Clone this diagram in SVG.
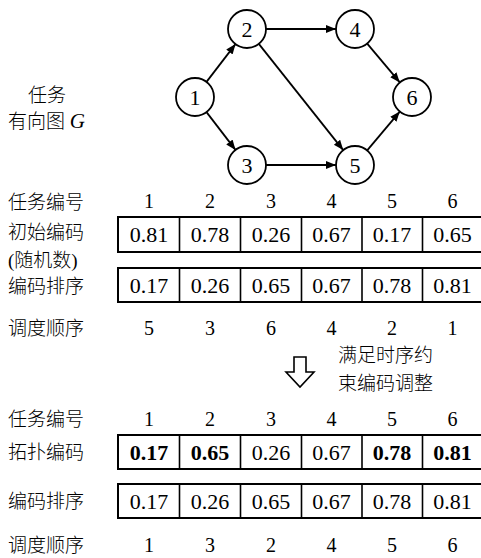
<svg xmlns="http://www.w3.org/2000/svg" width="481" height="558" viewBox="0 0 481 558">
<style>
  text { font-family: "Liberation Serif", "Noto Sans CJK SC", serif; fill: #000; }
  .cjk { font-size: 19px; font-weight: 300; }
  .num { font-size: 20px; text-anchor: middle; }
  .cell { font-size: 22px; text-anchor: middle; }
  .b { font-weight: bold; }
  .node circle { fill: #fff; stroke: #000; stroke-width: 1.8; }
  .node text { font-size: 22px; text-anchor: middle; }
  .edge { stroke: #000; stroke-width: 1.8; fill: none; marker-end: url(#ah); }
  .box { fill: #fff; stroke: #000; stroke-width: 2; }
  .div { stroke: #000; stroke-width: 1.6; }
</style>
<defs>
  <marker id="ah" markerUnits="userSpaceOnUse" markerWidth="11" markerHeight="9" refX="10" refY="4" orient="auto">
    <path d="M0,0 L10,4 L0,8 z" fill="#000"/>
  </marker>
</defs>
<rect width="481" height="558" fill="#fff"/>

<g id="graph-label">
  <text class="cjk" x="47" y="102" text-anchor="middle">任务</text>
  <text class="cjk" x="8" y="128">有向图 <tspan font-style="italic" font-size="21" font-weight="normal">G</tspan></text>
</g>

<g id="connectors">
  <line class="edge" x1="206.5" y1="81.9" x2="235.5" y2="44.1"/>
  <line class="edge" x1="206.5" y1="112.1" x2="235.5" y2="149.9"/>
  <line class="edge" x1="266" y1="29" x2="336" y2="29"/>
  <line class="edge" x1="258.8" y1="43.9" x2="343.2" y2="150.1"/>
  <line class="edge" x1="266" y1="165" x2="336" y2="165"/>
  <line class="edge" x1="367.2" y1="43.6" x2="399.8" y2="82.4"/>
  <line class="edge" x1="367.2" y1="150.4" x2="399.8" y2="111.6"/>
</g>

<g id="n1" class="node"><circle cx="195" cy="97" r="19"/><text x="195" y="104.5">1</text></g>
<g id="n2" class="node"><circle cx="247" cy="29" r="19"/><text x="247" y="36.5">2</text></g>
<g id="n3" class="node"><circle cx="247" cy="165" r="19"/><text x="247" y="172.5">3</text></g>
<g id="n4" class="node"><circle cx="355" cy="29" r="19"/><text x="355" y="36.5">4</text></g>
<g id="n5" class="node"><circle cx="355" cy="165" r="19"/><text x="355" y="172.5">5</text></g>
<g id="n6" class="node"><circle cx="412" cy="97" r="19"/><text x="412" y="104.5">6</text></g>

<g id="top-section">
  <text class="cjk" x="8" y="209">任务编号</text>
  <text class="cjk" x="8" y="239">初始编码</text>
  <text class="cjk" x="8" y="267">(随机数)</text>
  <text class="cjk" x="8" y="293">编码排序</text>
  <text class="cjk" x="8" y="335">调度顺序</text>

  <g id="hdr1">
    <text class="num" x="149" y="208">1</text>
    <text class="num" x="210" y="208">2</text>
    <text class="num" x="271" y="208">3</text>
    <text class="num" x="331.5" y="208">4</text>
    <text class="num" x="392" y="208">5</text>
    <text class="num" x="452.5" y="208">6</text>
  </g>

  <g id="table-initial">
    <rect class="box" x="118" y="217" width="364" height="35"/>
    <line class="div" x1="179.5" y1="217" x2="179.5" y2="252"/>
    <line class="div" x1="240.5" y1="217" x2="240.5" y2="252"/>
    <line class="div" x1="301.5" y1="217" x2="301.5" y2="252"/>
    <line class="div" x1="362" y1="217" x2="362" y2="252"/>
    <line class="div" x1="422.5" y1="217" x2="422.5" y2="252"/>
    <text class="cell" x="149" y="242">0.81</text>
    <text class="cell" x="210" y="242">0.78</text>
    <text class="cell" x="271" y="242">0.26</text>
    <text class="cell" x="331.5" y="242">0.67</text>
    <text class="cell" x="392" y="242">0.17</text>
    <text class="cell" x="452.5" y="242">0.65</text>
  </g>

  <g id="table-sorted1">
    <rect class="box" x="118" y="268" width="364" height="34"/>
    <line class="div" x1="179.5" y1="268" x2="179.5" y2="302"/>
    <line class="div" x1="240.5" y1="268" x2="240.5" y2="302"/>
    <line class="div" x1="301.5" y1="268" x2="301.5" y2="302"/>
    <line class="div" x1="362" y1="268" x2="362" y2="302"/>
    <line class="div" x1="422.5" y1="268" x2="422.5" y2="302"/>
    <text class="cell" x="149" y="292.5">0.17</text>
    <text class="cell" x="210" y="292.5">0.26</text>
    <text class="cell" x="271" y="292.5">0.65</text>
    <text class="cell" x="331.5" y="292.5">0.67</text>
    <text class="cell" x="392" y="292.5">0.78</text>
    <text class="cell" x="452.5" y="292.5">0.81</text>
  </g>

  <g id="order1">
    <text class="num" x="149" y="335">5</text>
    <text class="num" x="210" y="335">3</text>
    <text class="num" x="271" y="335">6</text>
    <text class="num" x="331.5" y="335">4</text>
    <text class="num" x="392" y="335">2</text>
    <text class="num" x="452.5" y="335">1</text>
  </g>
</g>

<g id="adjust">
  <path d="M294,357 L306,357 L306,372 L314,372 L300,387 L286,372 L294,372 z" fill="#fff" stroke="#000" stroke-width="1.6" stroke-linejoin="miter"/>
  <text class="cjk" x="338" y="362">满足时序约</text>
  <text class="cjk" x="338" y="390">束编码调整</text>
</g>

<g id="bottom-section">
  <text class="cjk" x="8" y="426">任务编号</text>
  <text class="cjk" x="8" y="459">拓扑编码</text>
  <text class="cjk" x="8" y="508">编码排序</text>
  <text class="cjk" x="8" y="552">调度顺序</text>

  <g id="hdr2">
    <text class="num" x="149" y="426">1</text>
    <text class="num" x="210" y="426">2</text>
    <text class="num" x="271" y="426">3</text>
    <text class="num" x="331.5" y="426">4</text>
    <text class="num" x="392" y="426">5</text>
    <text class="num" x="452.5" y="426">6</text>
  </g>

  <g id="table-topo">
    <rect class="box" x="118" y="435" width="364" height="34"/>
    <line class="div" x1="179.5" y1="435" x2="179.5" y2="469"/>
    <line class="div" x1="240.5" y1="435" x2="240.5" y2="469"/>
    <line class="div" x1="301.5" y1="435" x2="301.5" y2="469"/>
    <line class="div" x1="362" y1="435" x2="362" y2="469"/>
    <line class="div" x1="422.5" y1="435" x2="422.5" y2="469"/>
    <text class="cell b" x="149" y="459.5">0.17</text>
    <text class="cell b" x="210" y="459.5">0.65</text>
    <text class="cell" x="271" y="459.5">0.26</text>
    <text class="cell" x="331.5" y="459.5">0.67</text>
    <text class="cell b" x="392" y="459.5">0.78</text>
    <text class="cell b" x="452.5" y="459.5">0.81</text>
  </g>

  <g id="table-sorted2">
    <rect class="box" x="118" y="484" width="364" height="34"/>
    <line class="div" x1="179.5" y1="484" x2="179.5" y2="518"/>
    <line class="div" x1="240.5" y1="484" x2="240.5" y2="518"/>
    <line class="div" x1="301.5" y1="484" x2="301.5" y2="518"/>
    <line class="div" x1="362" y1="484" x2="362" y2="518"/>
    <line class="div" x1="422.5" y1="484" x2="422.5" y2="518"/>
    <text class="cell" x="149" y="508.5">0.17</text>
    <text class="cell" x="210" y="508.5">0.26</text>
    <text class="cell" x="271" y="508.5">0.65</text>
    <text class="cell" x="331.5" y="508.5">0.67</text>
    <text class="cell" x="392" y="508.5">0.78</text>
    <text class="cell" x="452.5" y="508.5">0.81</text>
  </g>

  <g id="order2">
    <text class="num" x="149" y="552">1</text>
    <text class="num" x="210" y="552">3</text>
    <text class="num" x="271" y="552">2</text>
    <text class="num" x="331.5" y="552">4</text>
    <text class="num" x="392" y="552">5</text>
    <text class="num" x="452.5" y="552">6</text>
  </g>
</g>
</svg>
